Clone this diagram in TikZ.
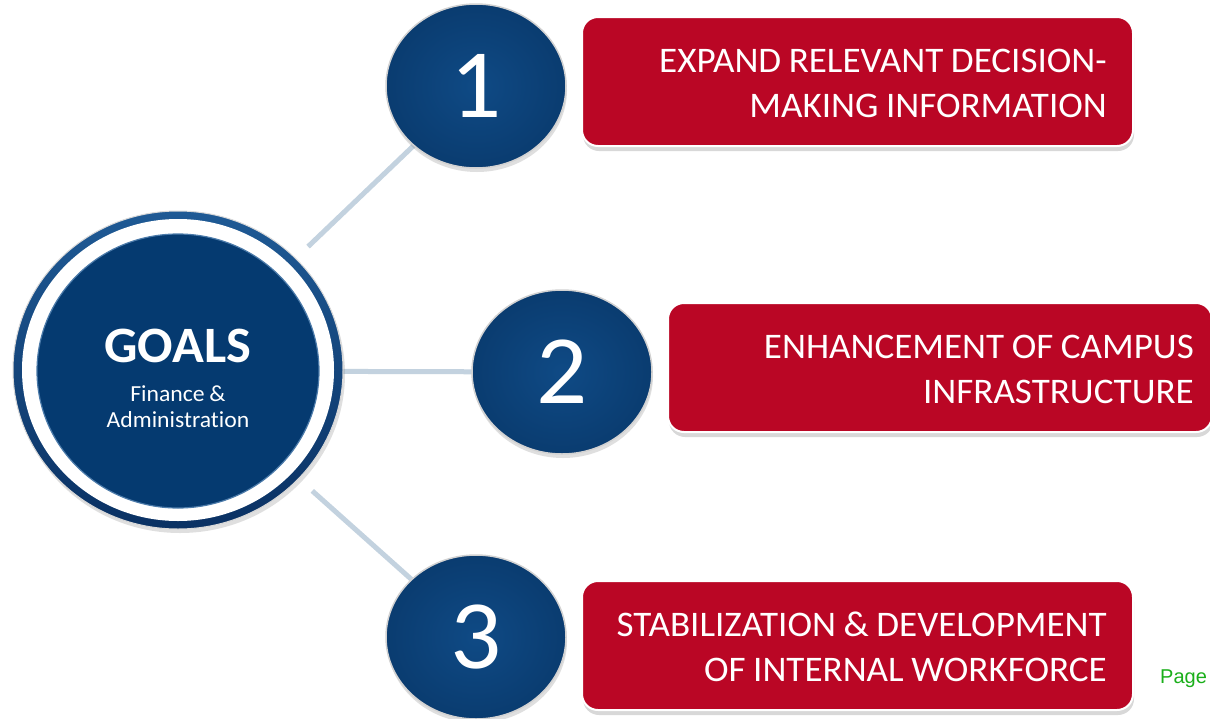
\documentclass[tikz,border=0pt]{standalone}
\usepackage{fontspec}
\setmainfont{Carlito}[FakeStretch=1.03, WordSpace=0.9, Ligatures=NoCommon]
\newfontfamily\arialfont{Liberation Sans}
\usetikzlibrary{shapes.geometric,shadows,backgrounds}
\definecolor{navy}{HTML}{0A3C70}
\definecolor{navylight}{HTML}{0F4A85}
\definecolor{navyinner}{HTML}{053A70}
\definecolor{ringtop}{HTML}{1F5A95}
\definecolor{ringbot}{HTML}{0A3163}
\definecolor{boxred}{HTML}{BA0625}
\definecolor{linecol}{HTML}{C3D2DF}
\definecolor{pagegreen}{HTML}{1AAF1A}
\begin{document}
\begin{tikzpicture}[x=1pt,y=-1pt,
  num/.style={ellipse, minimum width=180pt, minimum height=164pt, inner sep=0pt,
    draw=gray!35, line width=1.5pt, inner color=navylight, outer color=navy,
    text=white, font=\fontsize{98}{98}\selectfont,
    drop shadow={shadow xshift=1pt, shadow yshift=-4pt, opacity=0.25}},
  goalbox/.style={rectangle, rounded corners=16pt, fill=boxred, draw=white, line width=2pt,
    minimum height=129pt,
    drop shadow={shadow xshift=1pt, shadow yshift=-5pt, opacity=0.3}},
  boxtext/.style={anchor=east, inner sep=0pt, align=right, text=white,
    font=\fontsize{36}{45}\selectfont},
  conn/.style={draw=linecol, line width=5pt}]
\useasboundingbox (0,0) rectangle (1210,718);
% central circle
\node[ellipse, minimum width=330pt, minimum height=318pt, inner sep=0pt,
  top color=ringtop, bottom color=ringbot, draw=gray!30, line width=1pt,
  drop shadow={shadow xshift=2pt, shadow yshift=-4pt, opacity=0.25}] (ring) at (178,370) {};
\node[ellipse, minimum width=312pt, minimum height=302pt, inner sep=0pt, fill=white] (ringw) at (178,370) {};
\node[ellipse, minimum width=282pt, minimum height=274pt, inner sep=0pt, fill=navyinner,
  draw=ringtop!80, line width=1.2pt] (goals) at (178,371) {};
\node[text=white, align=center, inner sep=0pt, font=\fontsize{23}{26}\selectfont] (goalstext) at (178,378)
  {{\fontsize{51}{54}\selectfont\bfseries GOALS}\\[13pt]
   Finance \&\\
   Administration};
% number circles
\node[num] (c1) at (476,86) {1};
\node[num] (c2) at (562,372) {2};
\node[num] (c3) at (476,637) {3};
% boxes
\node[goalbox, minimum width=551pt] (b1) at (857.5,81.5) {};
\node[goalbox, minimum width=544pt] (b2) at (940,367.5) {};
\node[goalbox, minimum width=551pt] (b3) at (857.5,645.5) {};
\node[boxtext] (t1) at (1107,83) {EXPAND RELEVANT DECISION-\\MAKING INFORMATION};
\node[boxtext] (t2) at (1194,369) {ENHANCEMENT OF CAMPUS\\INFRASTRUCTURE};
\node[boxtext] (t3) at (1107,647) {STABILIZATION \& DEVELOPMENT\\OF INTERNAL WORKFORCE};
\node[anchor=base west, inner sep=0pt, text=pagegreen, font=\arialfont\fontsize{20}{20}\selectfont]
  (page) at (1160,683) {Page};
% connectors
\begin{pgfonlayer}{background}
\fill[white] (0,0) rectangle (1210,718);
\draw[conn, shorten <=180pt] (goals.center) -- (c1.center);
\draw[conn, shorten <=165pt] (goals.center) -- (c2.center);
\draw[conn, shorten <=180pt] (goals.center) -- (c3.center);
\end{pgfonlayer}
\end{tikzpicture}
\end{document}
